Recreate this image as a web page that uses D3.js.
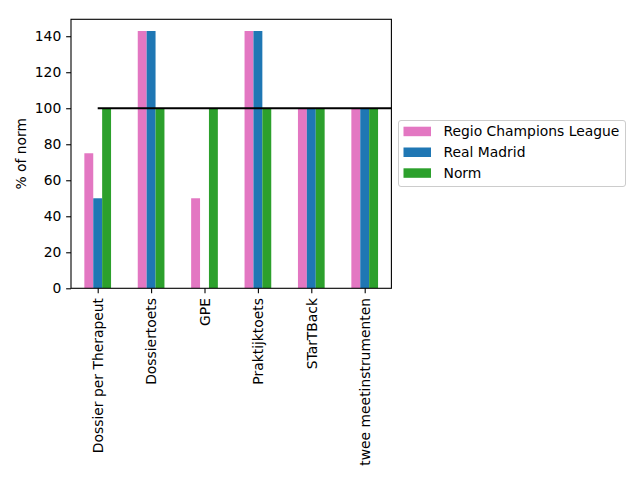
<!DOCTYPE html>
<html>
<head>
<meta charset="utf-8">
<script src="https://cdn.jsdelivr.net/npm/d3@7"></script>
<style>
    body { margin: 0; background: #fff; }
    text { font-family: "DejaVu Sans", sans-serif; }
</style>
</head>
<body>
<svg id="chart" width="640" height="480"></svg>
<script>
// Chart data
const categories = ['Dossier per Therapeut', 'Dossiertoets', 'GPE', 'Praktijktoets', 'STarTBack', 'twee meetinstrumenten'];
const seriesNames = ['Regio Champions League', 'Real Madrid', 'Norm'];
const regioValues = [75, 142.9, 50, 142.9, 100, 100];
const madridValues = [50, 142.9, 0, 142.9, 100, 100];
const normValues = [100, 100, 100, 100, 100, 100];
const yTicks = [0, 20, 40, 60, 80, 100, 120, 140];
const normLine = 100;

const colors = ['#e377c2', '#1f77b4', '#2ca02c'];
const seriesValues = [regioValues, madridValues, normValues];

function drawChart() {
    const svg = d3.select('#chart');
    const left = 71, right = 391.4, top = 19.3, bottom = 288.3;
    const fontSize = '13.89px';
    const tickLen = 4.86;

    // Scales: one unit per category, bars 0.5 wide per group
    const x = d3.scaleLinear().domain([-0.5, categories.length - 0.5]).range([left, right]);
    const y = d3.scaleLinear().domain([0, 149.4]).range([bottom, top]);
    const barW = 0.5 / seriesNames.length;

    svg.append('defs').append('clipPath').attr('id', 'plotClip')
        .append('rect')
        .attr('x', left).attr('y', top)
        .attr('width', right - left).attr('height', bottom - top);

    const plot = svg.append('g').attr('clip-path', 'url(#plotClip)');

    // Bars
    seriesValues.forEach((vals, s) => {
        plot.selectAll('.bar-' + s)
            .data(vals)
            .enter().append('rect')
            .attr('class', 'bar-' + s)
            .attr('x', (d, i) => x(i - 0.25 + s * barW))
            .attr('y', d => y(d))
            .attr('width', x(barW) - x(0))
            .attr('height', d => y(0) - y(d))
            .attr('fill', colors[s]);
    });

    // Norm line from first category to the right edge
    plot.append('line')
        .attr('x1', x(0)).attr('x2', x(categories.length))
        .attr('y1', y(normLine)).attr('y2', y(normLine))
        .attr('stroke', '#000')
        .attr('stroke-width', 2);

    // Y axis
    const yAxis = svg.append('g')
        .attr('transform', `translate(${left},0)`)
        .call(d3.axisLeft(y).tickValues(yTicks).tickSize(tickLen).tickPadding(4.86));
    yAxis.select('.domain').remove();
    yAxis.selectAll('line').attr('stroke-width', 1.1);
    yAxis.selectAll('text').attr('font-size', fontSize).attr('fill', '#000')
        .attr('font-family', 'DejaVu Sans');

    // X axis
    const xAxis = svg.append('g')
        .attr('transform', `translate(0,${bottom})`)
        .call(d3.axisBottom(x).tickValues(d3.range(categories.length)).tickSize(tickLen)
            .tickFormat(i => categories[i]));
    xAxis.select('.domain').remove();
    xAxis.selectAll('line').attr('stroke-width', 1.1);
    xAxis.selectAll('text')
        .attr('font-size', fontSize).attr('fill', '#000')
        .attr('font-family', 'DejaVu Sans')
        .attr('transform', 'rotate(-90)')
        .attr('x', -9.7)
        .attr('y', 0)
        .attr('dy', '0.35em')
        .attr('text-anchor', 'end');

    // Frame
    svg.append('rect')
        .attr('x', left).attr('y', top)
        .attr('width', right - left).attr('height', bottom - top)
        .attr('fill', 'none')
        .attr('stroke', '#000')
        .attr('stroke-width', 1.1);

    // Y label
    svg.append('text')
        .attr('transform', `translate(21,${(top + bottom) / 2}) rotate(-90)`)
        .attr('text-anchor', 'middle')
        .attr('dy', '0.35em')
        .attr('font-size', fontSize)
        .text('% of norm');

    // Legend
    const legend = svg.append('g');
    legend.append('rect')
        .attr('x', 398.5).attr('y', 120.5)
        .attr('width', 227).attr('height', 66)
        .attr('rx', 2.5)
        .attr('fill', '#fff').attr('fill-opacity', 0.8)
        .attr('stroke', '#cccccc').attr('stroke-width', 1);

    seriesNames.forEach((name, s) => {
        const rowY = 126.7 + s * 20.8;
        legend.append('rect')
            .attr('x', 403.5).attr('y', rowY)
            .attr('width', 27.5).attr('height', 9.5)
            .attr('fill', colors[s]);
        legend.append('text')
            .attr('x', 443.5).attr('y', rowY + 4.75)
            .attr('dy', '0.35em')
            .attr('font-size', fontSize)
            .text(name);
    });
}

drawChart();
</script>
</body>
</html>
